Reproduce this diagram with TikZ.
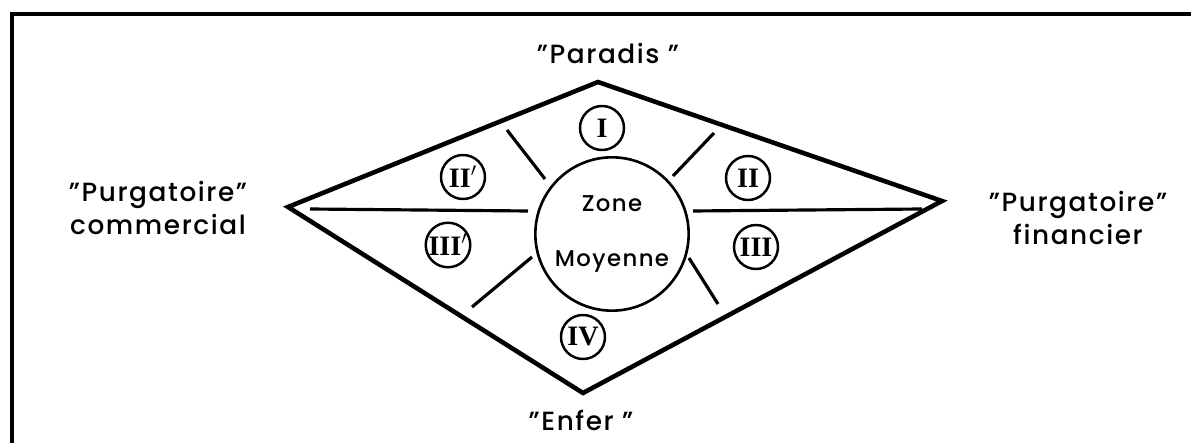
\documentclass[tikz,border=0pt]{standalone}
\usepackage{fontspec}
\setmainfont{Poppins}[LetterSpace=6, UprightFont={* Medium}]
\newfontfamily\romfont{Liberation Serif}
\usepackage{tikz}
\usetikzlibrary{shapes,positioning}

\begin{document}
\begin{tikzpicture}[x=0.02cm, y=0.02cm,
    label/.style={font=\fontsize{15}{19}\selectfont, align=center},
    zone/.style={circle, draw, line width=1.5pt, minimum size=2.9cm, font=\fontsize{13}{17}\selectfont, align=center},
    sector/.style={circle, draw, line width=1.4pt, minimum size=0.88cm, inner sep=0pt, font=\romfont\bfseries\fontsize{16}{16}\selectfont},
    spoke/.style={line width=1.8pt}]
    \useasboundingbox (0,0) rectangle (1191,443);

    % Frame
    \draw[line width=1.8pt] (12,0) -- (12,429) -- (1191,429);

    % Diamond
    \coordinate (top) at (598,361);
    \coordinate (west) at (288,236);
    \coordinate (east) at (942,242);
    \coordinate (bottom) at (583,50);
    \draw[line width=2.6pt, line join=miter] (top) -- (east) -- (bottom) -- (west) -- cycle;

    % Middle zone
    \node (moy) [zone] at (612,209) {Zone\\[0.5cm]Moyenne};

    % Sectors
    \node (s1) [sector] at (602,315) {I};
    \node (s2) [sector] at (748,265) {II};
    \node (s3) [sector] at (756,196) {III};
    \node (s4) [sector] at (583,106) {IV};
    \node (s2b) [sector] at (463,266) {II$'$};
    \node (s3b) [sector] at (448,198) {III$'$};

    % Dividers
    \coordinate (wl1) at (310,234);
    \coordinate (wl2) at (528,232);
    \coordinate (el1) at (693,232);
    \coordinate (el2) at (922,234);
    \coordinate (ul1) at (507,313);
    \coordinate (ul2) at (545,264);
    \coordinate (ur1) at (714,310);
    \coordinate (ur2) at (673,267);
    \coordinate (ll1) at (472,136);
    \coordinate (ll2) at (532,186);
    \coordinate (lr1) at (718,139);
    \coordinate (lr2) at (689,185);
    \draw[spoke] (wl1) -- (wl2);
    \draw[spoke] (el1) -- (el2);
    \draw[spoke] (ul1) -- (ul2);
    \draw[spoke] (ur1) -- (ur2);
    \draw[spoke] (ll1) -- (ll2);
    \draw[spoke] (lr1) -- (lr2);

    % Labels
    \node (paradis) [label] at (608,390) {"Paradis\ "};
    \node (enfer) [label] at (581,23) {"Enfer\ "};
    \node (pcom) [label] at (158,235) {"Purgatoire"\\commercial};
    \node (pfin) [label] at (1078,225) {"Purgatoire"\\financier};
\end{tikzpicture}
\end{document}
